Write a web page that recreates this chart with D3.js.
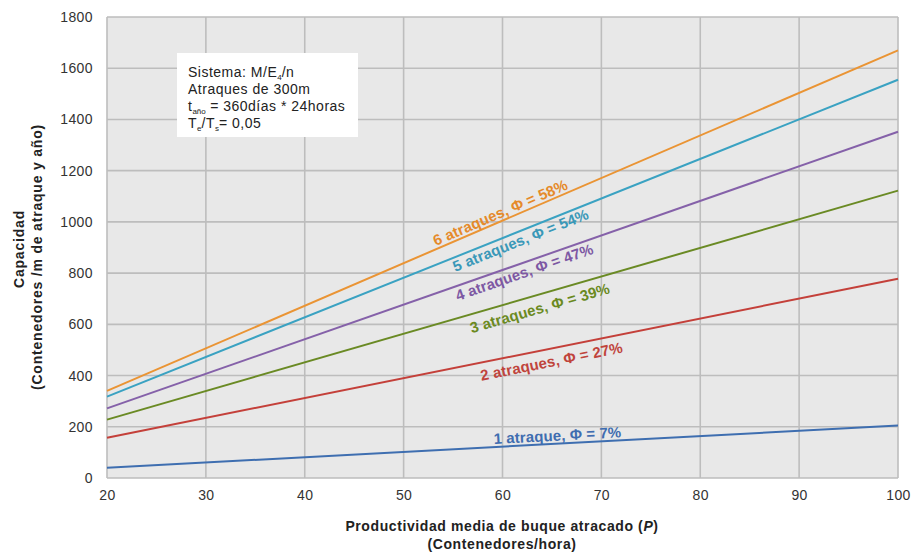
<!DOCTYPE html>
<html><head><meta charset="utf-8">
<script src="https://cdn.jsdelivr.net/npm/d3@7"></script>
<style>body{margin:0;background:#fff}svg{display:block;font-family:"Liberation Sans",Arial,sans-serif}</style>
</head><body><svg id="c" width="912" height="554"></svg>
<script>
const xValues = [20, 100];
const xTicks = [20, 30, 40, 50, 60, 70, 80, 90, 100];
const yTicks = [0, 200, 400, 600, 800, 1000, 1200, 1400, 1600, 1800];
const seriesNames = ["1 atraque, Φ = 7%", "2 atraques, Φ = 27%", "3 atraques, Φ = 39%", "4 atraques, Φ = 47%", "5 atraques, Φ = 54%", "6 atraques, Φ = 58%"];
const seriesValues = [
  [40, 205],
  [157, 778],
  [228, 1122],
  [272, 1352],
  [318, 1555],
  [340, 1670]
];
const seriesColors = ["#3e6eb0", "#c4403a", "#6a8a24", "#8561a9", "#3aa2c2", "#ea9434"];
const labelColors = ["#3f6db0", "#c0443c", "#6b8a1f", "#7d58a3", "#3a98b8", "#e58a2a"];
// label anchor: x data value and perpendicular offset (px, negative = above line)
const labelX = [65.6, 64.7, 63.4, 61.9, 61.5, 60.1];
const labelOffset = [-7, 14, 14.5, 10.5, 10, -7];
const noteLines = ["Sistema: M/E|4|/n", "Atraques de 300m", "t|año| = 360días * 24horas", "T|e|/T|s|= 0,05"];

const svg = d3.select("#c");
const m = {l: 107, r: 898, t: 17, b: 478};
const x = d3.scaleLinear().domain([20, 100]).range([m.l, m.r]);
const y = d3.scaleLinear().domain([0, 1800]).range([m.b, m.t]);

svg.append("rect").attr("x", m.l).attr("y", m.t).attr("width", m.r - m.l).attr("height", m.b - m.t).attr("fill", "#e8e8e8");

const grid = svg.append("g").attr("stroke", "#bdbdbd").attr("stroke-width", 1.6);
grid.selectAll(".gx").data(xTicks).join("line").attr("x1", d => x(d)).attr("x2", d => x(d)).attr("y1", m.t).attr("y2", m.b);
grid.selectAll(".gy").data(yTicks).join("line").attr("x1", m.l).attr("x2", m.r).attr("y1", d => y(d)).attr("y2", d => y(d));

const xa = svg.append("g").attr("transform", `translate(0,${m.b})`)
  .call(d3.axisBottom(x).tickValues(xTicks).tickSize(0).tickPadding(12).tickFormat(d3.format("d")));
xa.select(".domain").remove();
xa.selectAll("text").attr("font-size", 14).attr("letter-spacing", 0.4).attr("fill", "#333").attr("font-family", "Liberation Sans, Arial, sans-serif");

const ya = svg.append("g").attr("transform", `translate(${m.l},0)`)
  .call(d3.axisLeft(y).tickValues(yTicks).tickSize(0).tickPadding(14).tickFormat(d3.format("d")));
ya.select(".domain").remove();
ya.selectAll("text").attr("font-size", 14).attr("letter-spacing", 0.4).attr("fill", "#333").attr("font-family", "Liberation Sans, Arial, sans-serif");

const line = d3.line().x((d, i) => x(xValues[i])).y(d => y(d));
svg.append("g").selectAll("path").data(seriesValues).join("path")
  .attr("d", d => line(d)).attr("fill", "none").attr("stroke-width", 2)
  .attr("stroke", (d, i) => seriesColors[i]);

// labels along lines
seriesValues.forEach((vals, i) => {
  const slopeData = (vals[1] - vals[0]) / (xValues[1] - xValues[0]);
  const xv = labelX[i];
  const yv = vals[0] + slopeData * (xv - xValues[0]);
  const px = x(xv), py = y(yv);
  const dx = x(xValues[1]) - x(xValues[0]);
  const dy = y(vals[1]) - y(vals[0]);
  const ang = Math.atan2(dy, dx) * 180 / Math.PI;
  const len = Math.hypot(dx, dy);
  const nx = -dy / len, ny = dx / len;
  const off = labelOffset[i];
  svg.append("text")
    .attr("transform", `translate(${px + nx * off},${py + ny * off}) rotate(${ang})`)
    .attr("text-anchor", "middle").attr("dominant-baseline", "middle")
    .attr("font-size", 15).attr("font-weight", "bold").attr("letter-spacing", 0.1)
    .attr("fill", labelColors[i]).text(seriesNames[i]);
});

// note box
svg.append("rect").attr("x", 177).attr("y", 53).attr("width", 181).attr("height", 84).attr("fill", "#fff");
noteLines.forEach((s, i) => {
  const t = svg.append("text").attr("x", 188).attr("y", 77 + i * 17).attr("font-size", 14).attr("letter-spacing", 0.5).attr("fill", "#222");
  s.split("|").forEach((part, k) => {
    if (k % 2 === 1) t.append("tspan").attr("font-size", 8).attr("letter-spacing", 0).attr("dy", 3).text(part);
    else t.append("tspan").attr("dy", k > 0 ? -3 : 0).text(part);
  });
});

// axis titles
const yt1 = svg.append("text").attr("transform", "translate(0,249) rotate(-90)")
  .attr("text-anchor", "middle").attr("font-size", 14).attr("letter-spacing", 0.8).attr("font-weight", "bold").attr("fill", "#222")
  .attr("x", 0).attr("y", 24).text("Capacidad");
const yt2 = svg.append("text").attr("transform", "translate(0,257) rotate(-90)")
  .attr("text-anchor", "middle").attr("font-size", 14).attr("letter-spacing", 0.8).attr("font-weight", "bold").attr("fill", "#222")
  .attr("x", 0).attr("y", 42).text("(Contenedores /m de atraque y año)");

const xt = svg.append("text").attr("text-anchor", "middle").attr("font-size", 14).attr("letter-spacing", 0.6).attr("font-weight", "bold").attr("fill", "#222");
const l1 = xt.append("tspan").attr("x", 502).attr("y", 531);
l1.append("tspan").text("Productividad media de buque atracado (");
l1.append("tspan").attr("font-style", "italic").text("P");
l1.append("tspan").text(")");
xt.append("tspan").attr("x", 502).attr("y", 549).text("(Contenedores/hora)");
</script></body></html>
